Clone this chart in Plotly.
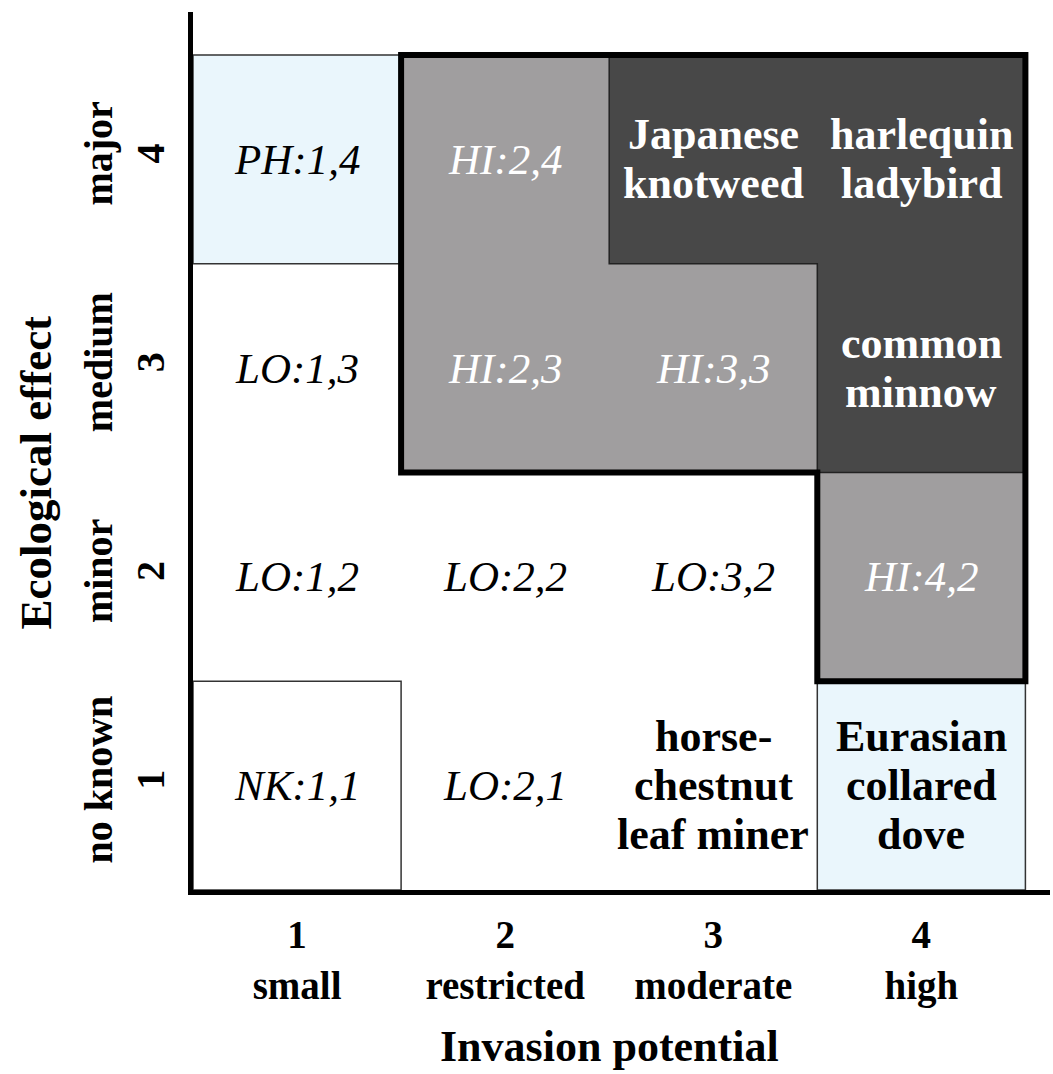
import plotly.graph_objects as go

# ---------------- data ----------------
x_categories = ["1", "2", "3", "4"]
x_tick_names = ["small", "restricted", "moderate", "high"]
y_categories = ["1", "2", "3", "4"]
y_tick_names = ["no known", "minor", "medium", "major"]

cell_x = [1, 2, 3, 4, 1, 2, 3, 4, 1, 2, 3, 4, 1, 2, 3, 4]
cell_y = [4, 4, 4, 4, 3, 3, 3, 3, 2, 2, 2, 2, 1, 1, 1, 1]
cell_labels = [
    "PH:1,4", "HI:2,4", "Japanese\nknotweed", "harlequin\nladybird",
    "LO:1,3", "HI:2,3", "HI:3,3", "common\nminnow",
    "LO:1,2", "LO:2,2", "LO:3,2", "HI:4,2",
    "NK:1,1", "LO:2,1", "horse-\nchestnut\nleaf miner", "Eurasian\ncollared\ndove",
]
cell_fill = [
    "lightblue", "gray", "dark", "dark",
    "white", "gray", "gray", "dark",
    "white", "white", "white", "gray",
    "white", "white", "white", "lightblue",
]
cell_boxed = [
    True, False, False, False,
    False, False, False, False,
    False, False, False, False,
    True, False, False, True,
]
cell_is_species = [
    False, False, True, True,
    False, False, False, True,
    False, False, False, False,
    False, False, True, True,
]

# ---------------- styles ----------------
FONT = "Liberation Serif, Times New Roman, serif"
fill_colors = {"lightblue": "#eaf6fc", "white": "#ffffff", "gray": "#a09e9f", "dark": "#484848"}
text_colors = {"lightblue": "#000000", "white": "#000000", "gray": "#ffffff", "dark": "#ffffff"}


def boundary_path(cells):
    s = set(cells)
    nxt = {}
    for (cx, cy) in s:
        x0, x1, y0, y1 = cx - 0.5, cx + 0.5, cy - 0.5, cy + 0.5
        if (cx, cy - 1) not in s:
            nxt[(x0, y0)] = (x1, y0)
        if (cx + 1, cy) not in s:
            nxt[(x1, y0)] = (x1, y1)
        if (cx, cy + 1) not in s:
            nxt[(x1, y1)] = (x0, y1)
        if (cx - 1, cy) not in s:
            nxt[(x0, y1)] = (x0, y0)
    start = min(nxt.keys())
    pts = [start]
    p = nxt[start]
    while p != start:
        pts.append(p)
        p = nxt[p]
    return "M " + " L ".join(f"{a},{b}" for a, b in pts) + " Z"


fig = go.Figure()
shapes = []

# light blue cells
for x, y, f in zip(cell_x, cell_y, cell_fill):
    if f == "lightblue":
        shapes.append(dict(type="rect", xref="x", yref="y", x0=x - 0.5, x1=x + 0.5,
                           y0=y - 0.5, y1=y + 0.5, fillcolor=fill_colors[f],
                           line=dict(width=0), layer="below"))

hi_cells = [(x, y) for x, y, f in zip(cell_x, cell_y, cell_fill) if f in ("gray", "dark")]
dark_cells = [(x, y) for x, y, f in zip(cell_x, cell_y, cell_fill) if f == "dark"]

# gray region (union of high-risk cells) then dark region on top
shapes.append(dict(type="path", xref="x", yref="y", path=boundary_path(hi_cells),
                   fillcolor=fill_colors["gray"], line=dict(width=0), layer="below"))
shapes.append(dict(type="path", xref="x", yref="y", path=boundary_path(dark_cells),
                   fillcolor=fill_colors["dark"], line=dict(width=1.5, color="#222222"),
                   layer="below"))

# thin boxes
for x, y, b in zip(cell_x, cell_y, cell_boxed):
    if b:
        shapes.append(dict(type="rect", xref="x", yref="y", x0=x - 0.5, x1=x + 0.5,
                           y0=y - 0.5, y1=y + 0.5, fillcolor="rgba(0,0,0,0)",
                           line=dict(width=1.5, color="#333333"), layer="below"))

# thick outline around high-risk zone
shapes.append(dict(type="path", xref="x", yref="y", path=boundary_path(hi_cells),
                   line=dict(width=6, color="#000000"), fillcolor="rgba(0,0,0,0)", layer="above"))

annotations = []
for x, y, lab, f, sp in zip(cell_x, cell_y, cell_labels, cell_fill, cell_is_species):
    lines = lab.split("\n")
    n = len(lines)
    gap = 49
    for i, line in enumerate(lines):
        txt = f"<b>{line}</b>" if sp else f"<i>{line}</i>"
        annotations.append(dict(x=x, y=y, xref="x", yref="y", text=txt, showarrow=False,
                                yshift=((n - 1) / 2 - i) * gap,
                                font=dict(family=FONT, size=44 if sp else 43, color=text_colors[f]),
                                xanchor="center", yanchor="middle"))

# axis titles
annotations.append(dict(x=2.5, y=0, xref="x", yref="paper", yshift=-156,
                        text="<b>Invasion potential</b>", showarrow=False,
                        font=dict(family=FONT, size=44, color="#000"),
                        xanchor="center", yanchor="middle"))
annotations.append(dict(x=0, y=2.5, xref="paper", yref="y", xshift=-158,
                        text="<b>Ecological effect</b>", showarrow=False, textangle=-90,
                        font=dict(family=FONT, size=45, color="#000"),
                        xanchor="center", yanchor="middle"))

# invisible trace so axes render
fig.add_trace(go.Scatter(x=cell_x, y=cell_y, mode="markers", marker=dict(opacity=0),
                         hoverinfo="skip", showlegend=False))

x_ticktext = [f"<b>{c}</b><br><b>{n}</b>" for c, n in zip(x_categories, x_tick_names)]
y_ticktext = [f"<b>{n}</b><br><b>{c}</b>" for c, n in zip(y_categories, y_tick_names)]

fig.update_layout(
    width=1053, height=1074,
    margin=dict(l=193, r=3, t=12, b=184, autoexpand=False),
    paper_bgcolor="white", plot_bgcolor="white",
    shapes=shapes, annotations=annotations,
    xaxis=dict(range=[0.5, 0.5 + (1050 - 193) / 208.1], showgrid=False, zeroline=False,
               showline=True, linewidth=5, linecolor="black", ticks="", automargin=False,
               tickvals=[1, 2, 3, 4], ticktext=x_ticktext,
               tickfont=dict(family=FONT, size=39, color="#000"), ticklabelstandoff=6),
    yaxis=dict(range=[0.5, 4.5 + (55 - 12) / 208.75], showgrid=False, zeroline=False,
               showline=True, linewidth=5, linecolor="black", ticks="", automargin=False,
               tickvals=[1, 2, 3, 4], ticktext=y_ticktext, tickangle=-90,
               tickfont=dict(family=FONT, size=40, color="#000"), ticklabelstandoff=8),
    showlegend=False,
)

fig.write_html("out.html", config={"displayModeBar": False},
               post_script="document.body.style.margin='0';document.body.style.overflow='hidden';")
